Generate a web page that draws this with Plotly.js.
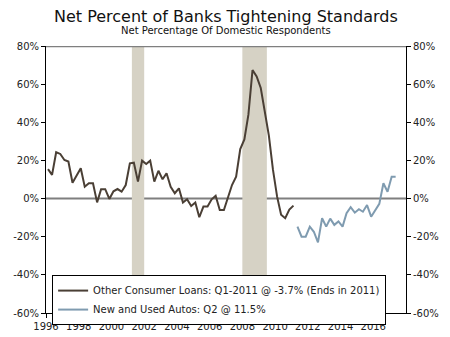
<!DOCTYPE html>
<html>
<head>
<meta charset="utf-8">
<script src="https://cdn.plot.ly/plotly-3.0.1.min.js"></script>
<style>html,body{margin:0;padding:0;background:#fff;overflow:hidden;width:450px;height:337px;}#chart{width:450px;height:337px;overflow:hidden;}</style>
</head>
<body>
<div id="chart"></div>
<script>
// Other Consumer Loans, quarterly 1996Q1 - 2011Q1
var consumerQuarters = [
 "1996-02-15","1996-05-15","1996-08-15","1996-11-15",
 "1997-02-15","1997-05-15","1997-08-15","1997-11-15",
 "1998-02-15","1998-05-15","1998-08-15","1998-11-15",
 "1999-02-15","1999-05-15","1999-08-15","1999-11-15",
 "2000-02-15","2000-05-15","2000-08-15","2000-11-15",
 "2001-02-15","2001-05-15","2001-08-15","2001-11-15",
 "2002-02-15","2002-05-15","2002-08-15","2002-11-15",
 "2003-02-15","2003-05-15","2003-08-15","2003-11-15",
 "2004-02-15","2004-05-15","2004-08-15","2004-11-15",
 "2005-02-15","2005-05-15","2005-08-15","2005-11-15",
 "2006-02-15","2006-05-15","2006-08-15","2006-11-15",
 "2007-02-15","2007-05-15","2007-08-15","2007-11-15",
 "2008-02-15","2008-05-15","2008-08-15","2008-11-15",
 "2009-02-15","2009-05-15","2009-08-15","2009-11-15",
 "2010-02-15","2010-05-15","2010-08-15","2010-11-15",
 "2011-02-15"
];
var consumerValues = [
 15.4, 12.4, 24.3, 23.4,
 20.2, 19.4, 8.3, 12.0,
 15.9, 6.2, 8.0, 8.0,
 -2.0, 4.9, 4.9, -0.2,
 3.8, 5.0, 3.6, 7.1,
 18.5, 18.8, 8.9, 19.9,
 18.1, 19.9, 8.9, 14.6,
 10.1, 13.3, 6.2, 2.8,
 5.4, -2.1, -0.4, -3.9,
 -2.1, -9.8, -4.2, -4.2,
 -0.4, 1.5, -6.0, -6.0,
 0.2, 7.1, 11.5, 26.0,
 31.0, 44.0, 67.4, 64.0,
 58.0, 46.0, 33.0, 15.0,
 1.0, -8.5, -10.3, -5.8,
 -3.7
];
// New and Used Autos, quarterly 2011Q2 - 2017Q2
var autoQuarters = [
 "2011-05-15","2011-08-15","2011-11-15",
 "2012-02-15","2012-05-15","2012-08-15","2012-11-15",
 "2013-02-15","2013-05-15","2013-08-15","2013-11-15",
 "2014-02-15","2014-05-15","2014-08-15","2014-11-15",
 "2015-02-15","2015-05-15","2015-08-15","2015-11-15",
 "2016-02-15","2016-05-15","2016-08-15","2016-11-15",
 "2017-02-15","2017-05-15"
];
var autoValues = [
 -14.7, -20.0, -20.0,
 -14.7, -17.4, -23.0, -10.3,
 -14.7, -10.5, -13.8, -12.0,
 -14.7, -7.7, -4.5, -7.4,
 -5.6, -6.9, -3.4, -9.5,
 -6.0, -2.8, 8.0, 3.6,
 11.5, 11.5
];
var recessionStarts = ["2001-04-01", "2008-01-01"];
var recessionEnds = ["2002-01-01", "2009-07-01"];
var yTicks = [-60, -40, -20, 0, 20, 40, 60, 80];
var xTickYears = ["1996-01-01","1998-01-01","2000-01-01","2002-01-01","2004-01-01","2006-01-01","2008-01-01","2010-01-01","2012-01-01","2014-01-01","2016-01-01"];
var xTickLabels = ["1996","1998","2000","2002","2004","2006","2008","2010","2012","2014","2016"];
var yTickLabels = yTicks.map(function(v){ return v + "%"; });

var FONT = "DejaVu Sans, Verdana, sans-serif";
var xRange = ["1996-01-01", "2018-01-01"];
var yRange = [-60, 80];

var shapes = [];
for (var i = 0; i < recessionStarts.length; i++) {
  shapes.push({type: "rect", xref: "x", yref: "y", x0: recessionStarts[i], x1: recessionEnds[i],
    y0: yRange[0], y1: yRange[1], fillcolor: "#d6d2c5", line: {width: 0}, layer: "below"});
}
shapes.push({type: "line", xref: "paper", yref: "y", x0: 0, x1: 1, y0: 0, y1: 0,
  line: {color: "#7f7f7f", width: 2}, layer: "below"});
shapes.push({type: "line", xref: "paper", yref: "y", x0: 0, x1: 1, y0: 80, y1: 80,
  line: {color: "#7f7f7f", width: 2.5}, layer: "above"});

var traces = [
  {x: consumerQuarters, y: consumerValues, type: "scatter", mode: "lines",
   name: "Other Consumer Loans: Q1-2011 @ -3.7% (Ends in 2011)",
   line: {color: "#4a3f35", width: 2}, xaxis: "x", yaxis: "y"},
  {x: autoQuarters, y: autoValues, type: "scatter", mode: "lines",
   name: "New and Used Autos: Q2 @ 11.5%",
   line: {color: "#7f9bb0", width: 2}, xaxis: "x", yaxis: "y2"}
];

var layout = {
  width: 450, height: 337,
  margin: {l: 46, r: 44, t: 46, b: 24, pad: 0},
  paper_bgcolor: "#ffffff", plot_bgcolor: "#ffffff",
  font: {family: FONT, size: 10, color: "#222"},
  showlegend: true,
  legend: {x: 0.017, y: 0.142, xanchor: "left", yanchor: "top",
    bgcolor: "#ffffff", bordercolor: "#000000", borderwidth: 1,
    font: {family: FONT, size: 10, color: "#222"}, tracegroupgap: 0,
    itemwidth: 30},
  xaxis: {type: "date", range: xRange, tickmode: "array", tickvals: xTickYears, ticktext: xTickLabels,
    ticks: "outside", ticklen: 4, tickcolor: "#000", showgrid: false, zeroline: false,
    showline: true, linecolor: "#000", linewidth: 1, tickfont: {family: FONT, size: 10, color: "#222"}},
  yaxis: {range: yRange, tickmode: "array", tickvals: yTicks, ticktext: yTickLabels,
    ticks: "outside", ticklen: 4, tickcolor: "#000", showgrid: false, zeroline: false,
    showline: true, linecolor: "#000", linewidth: 1, tickfont: {family: FONT, size: 10, color: "#222"}},
  yaxis2: {range: yRange, overlaying: "y", side: "right", tickmode: "array", tickvals: yTicks, ticktext: yTickLabels,
    ticks: "outside", ticklen: 4, tickcolor: "#000", showgrid: false, zeroline: false,
    showline: true, linecolor: "#000", linewidth: 1, tickfont: {family: FONT, size: 10, color: "#222"}},
  shapes: shapes,
  annotations: [
    {text: "Net Percent of Banks Tightening Standards", xref: "paper", yref: "paper",
     x: 0.5, y: 1.112, xanchor: "center", yanchor: "middle", showarrow: false,
     font: {family: FONT, size: 16, color: "#111"}},
    {text: "Net Percentage Of Domestic Respondents", xref: "paper", yref: "paper",
     x: 0.5, y: 1.058, xanchor: "center", yanchor: "middle", showarrow: false,
     font: {family: FONT, size: 10, color: "#111"}}
  ]
};

Plotly.newPlot("chart", traces, layout, {displayModeBar: false, staticPlot: true});
</script>
</body>
</html>
